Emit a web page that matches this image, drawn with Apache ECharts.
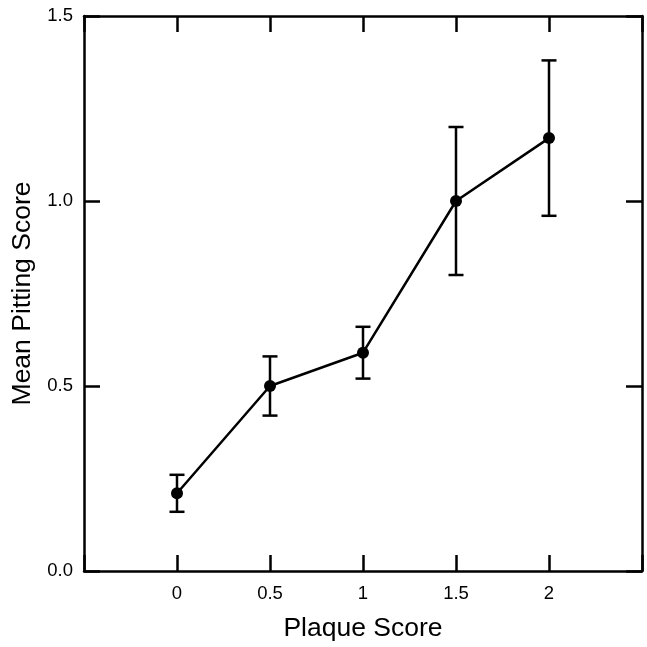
<!DOCTYPE html>
<html>
<head>
<meta charset="utf-8">
<script src="https://cdn.jsdelivr.net/npm/echarts@6/dist/echarts.min.js"></script>
<style>
html,body{margin:0;padding:0;background:#fff;}
#chart{width:647px;height:647px;}
</style>
</head>
<body>
<div id="chart"></div>
<script>
const plaqueScores = [0, 0.5, 1, 1.5, 2];
const meanPitting = [0.21, 0.50, 0.59, 1.00, 1.17];
const errorSize = [0.05, 0.08, 0.07, 0.20, 0.21];
const yTicks = [0, 0.5, 1.0, 1.5];

const lineData = plaqueScores.map((x, i) => [x, meanPitting[i]]);
const errData = plaqueScores.map((x, i) => [x, meanPitting[i] - errorSize[i], meanPitting[i] + errorSize[i]]);

const FONT = 'Liberation Sans, Arial, sans-serif';
const INK = '#000';

function xAxisCfg(pos, showLabel, name) {
  return {
    type: 'value', position: pos, min: -0.5, max: 2.5, interval: 0.5,
    name: name || '', nameLocation: 'middle', nameGap: 44,
    nameTextStyle: {fontFamily: FONT, fontSize: 26.5, color: INK},
    axisLine: {show: true, onZero: false, lineStyle: {color: INK, width: 2.5}},
    axisTick: {show: true, inside: true, length: 16, lineStyle: {color: INK, width: 2.5}},
    axisLabel: {show: showLabel, margin: 13, fontFamily: FONT, fontSize: 18.5, color: INK,
      formatter: v => (v < 0 || v > 2) ? '' : String(v)},
    splitLine: {show: false}
  };
}
function yAxisCfg(pos, showLabel, name) {
  return {
    type: 'value', position: pos, min: yTicks[0], max: yTicks[yTicks.length - 1], interval: 0.5,
    name: name || '', nameLocation: 'middle', nameGap: 45,
    nameTextStyle: {fontFamily: FONT, fontSize: 26.5, color: INK},
    axisLine: {show: true, onZero: false, lineStyle: {color: INK, width: 2.5}},
    axisTick: {show: true, inside: true, length: 16, lineStyle: {color: INK, width: 2.5}},
    axisLabel: {show: showLabel, margin: 11, fontFamily: FONT, fontSize: 18.5, color: INK,
      formatter: v => v.toFixed(1)},
    splitLine: {show: false}
  };
}

const chart = echarts.init(document.getElementById('chart'), null, {renderer: 'canvas'});
chart.setOption({
  animation: false,
  backgroundColor: '#fff',
  grid: {left: 84, right: 5, top: 16, bottom: 73},
  xAxis: [xAxisCfg('bottom', true, 'Plaque Score'), xAxisCfg('top', false)],
  yAxis: [yAxisCfg('left', true, 'Mean Pitting Score'), yAxisCfg('right', false)],
  series: [
    {
      type: 'custom',
      xAxisIndex: 0, yAxisIndex: 0,
      data: errData,
      z: 2,
      renderItem: function (params, api) {
        const x = api.value(0);
        const pLo = api.coord([x, api.value(1)]);
        const pHi = api.coord([x, api.value(2)]);
        const hw = 7.5;
        const st = {stroke: INK, lineWidth: 2.5};
        return {
          type: 'group',
          children: [
            {type: 'line', shape: {x1: pLo[0], y1: pLo[1], x2: pHi[0], y2: pHi[1]}, style: st},
            {type: 'line', shape: {x1: pLo[0] - hw, y1: pLo[1], x2: pLo[0] + hw, y2: pLo[1]}, style: st},
            {type: 'line', shape: {x1: pHi[0] - hw, y1: pHi[1], x2: pHi[0] + hw, y2: pHi[1]}, style: st}
          ]
        };
      }
    },
    {
      type: 'line',
      xAxisIndex: 0, yAxisIndex: 0,
      data: lineData,
      z: 3,
      symbol: 'circle', symbolSize: 12,
      lineStyle: {color: INK, width: 2.5},
      itemStyle: {color: INK, borderWidth: 0}
    }
  ]
});
</script>
</body>
</html>
